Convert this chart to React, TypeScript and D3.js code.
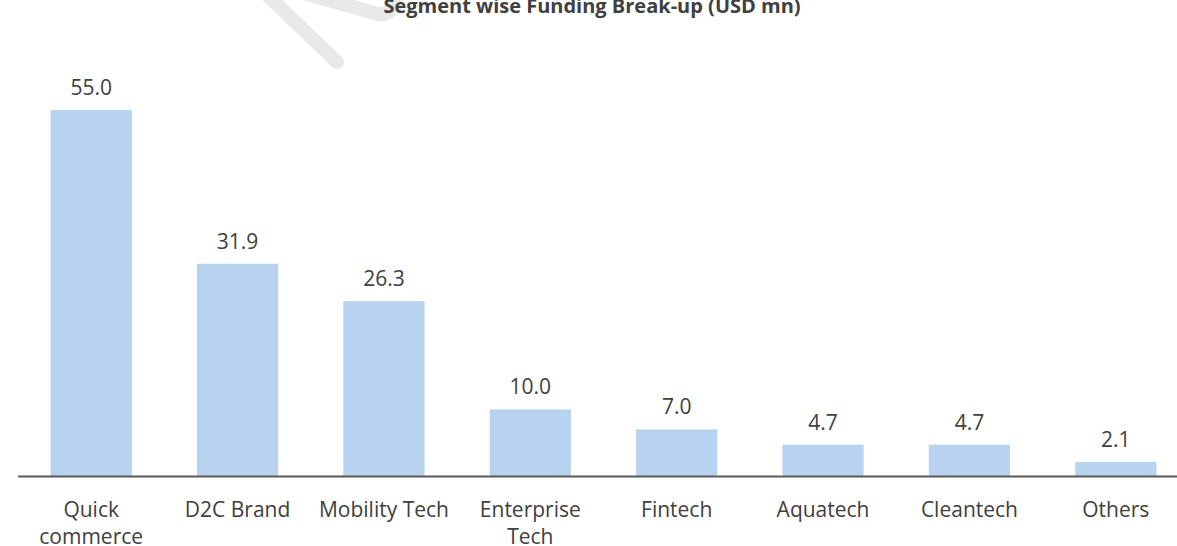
import React from "react";
import * as d3 from "d3";

const categories = ["Quick commerce", "D2C Brand", "Mobility Tech", "Enterprise Tech", "Fintech", "Aquatech", "Cleantech", "Others"];
const categoryLines = [["Quick", "commerce"], ["D2C Brand"], ["Mobility Tech"], ["Enterprise", "Tech"], ["Fintech"], ["Aquatech"], ["Cleantech"], ["Others"]];
const values = [55.0, 31.9, 26.3, 10.0, 7.0, 4.7, 4.7, 2.1];
const title = "Segment wise Funding Break-up (USD mn)";

const W = 1177;
const H = 546;
const FONT = "'Open Sans', 'Noto Sans', sans-serif";

export default function App() {
  const x = d3.scaleBand<string>().domain(categories).range([18, 1189]).paddingInner(0.445).paddingOuter(0.2225);
  const y = d3.scaleLinear().domain([0, 55]).range([476, 110]);
  const bw = x.bandwidth();
  return (
    <svg width={W} height={H} style={{ position: "absolute", left: 0, top: 0, background: "#fff" }}>
      <g fill="none" stroke="#e9e9e9" strokeWidth={14} strokeLinecap="round" strokeLinejoin="round">
        <path d="M 262 -10 L 337 62" />
        <path d="M 300 -8 L 378 14 Q 388 16 396 4" />
      </g>
      <text x={592} y={13} textAnchor="middle" fontFamily={FONT} fontWeight={700} fontSize={20} fill="#404040">{title}</text>
      {categories.map((c, i) => (
        <g key={c}>
          <rect x={x(c)!} y={y(values[i])} width={bw} height={y(0) - y(values[i])} fill="#b7d3ef" />
          <text x={x(c)! + bw / 2} y={y(values[i]) - 15} textAnchor="middle" fontFamily={FONT} fontSize={21} fill="#404040">{values[i].toFixed(1)}</text>
          {categoryLines[i].map((ln, j) => (
            <text key={j} x={x(c)! + bw / 2} y={517 + j * 27} textAnchor="middle" fontFamily={FONT} fontSize={21} fill="#404040">{ln}</text>
          ))}
        </g>
      ))}
      <line x1={18} x2={1189} y1={476.5} y2={476.5} stroke="#595959" strokeWidth={2} />
    </svg>
  );
}
